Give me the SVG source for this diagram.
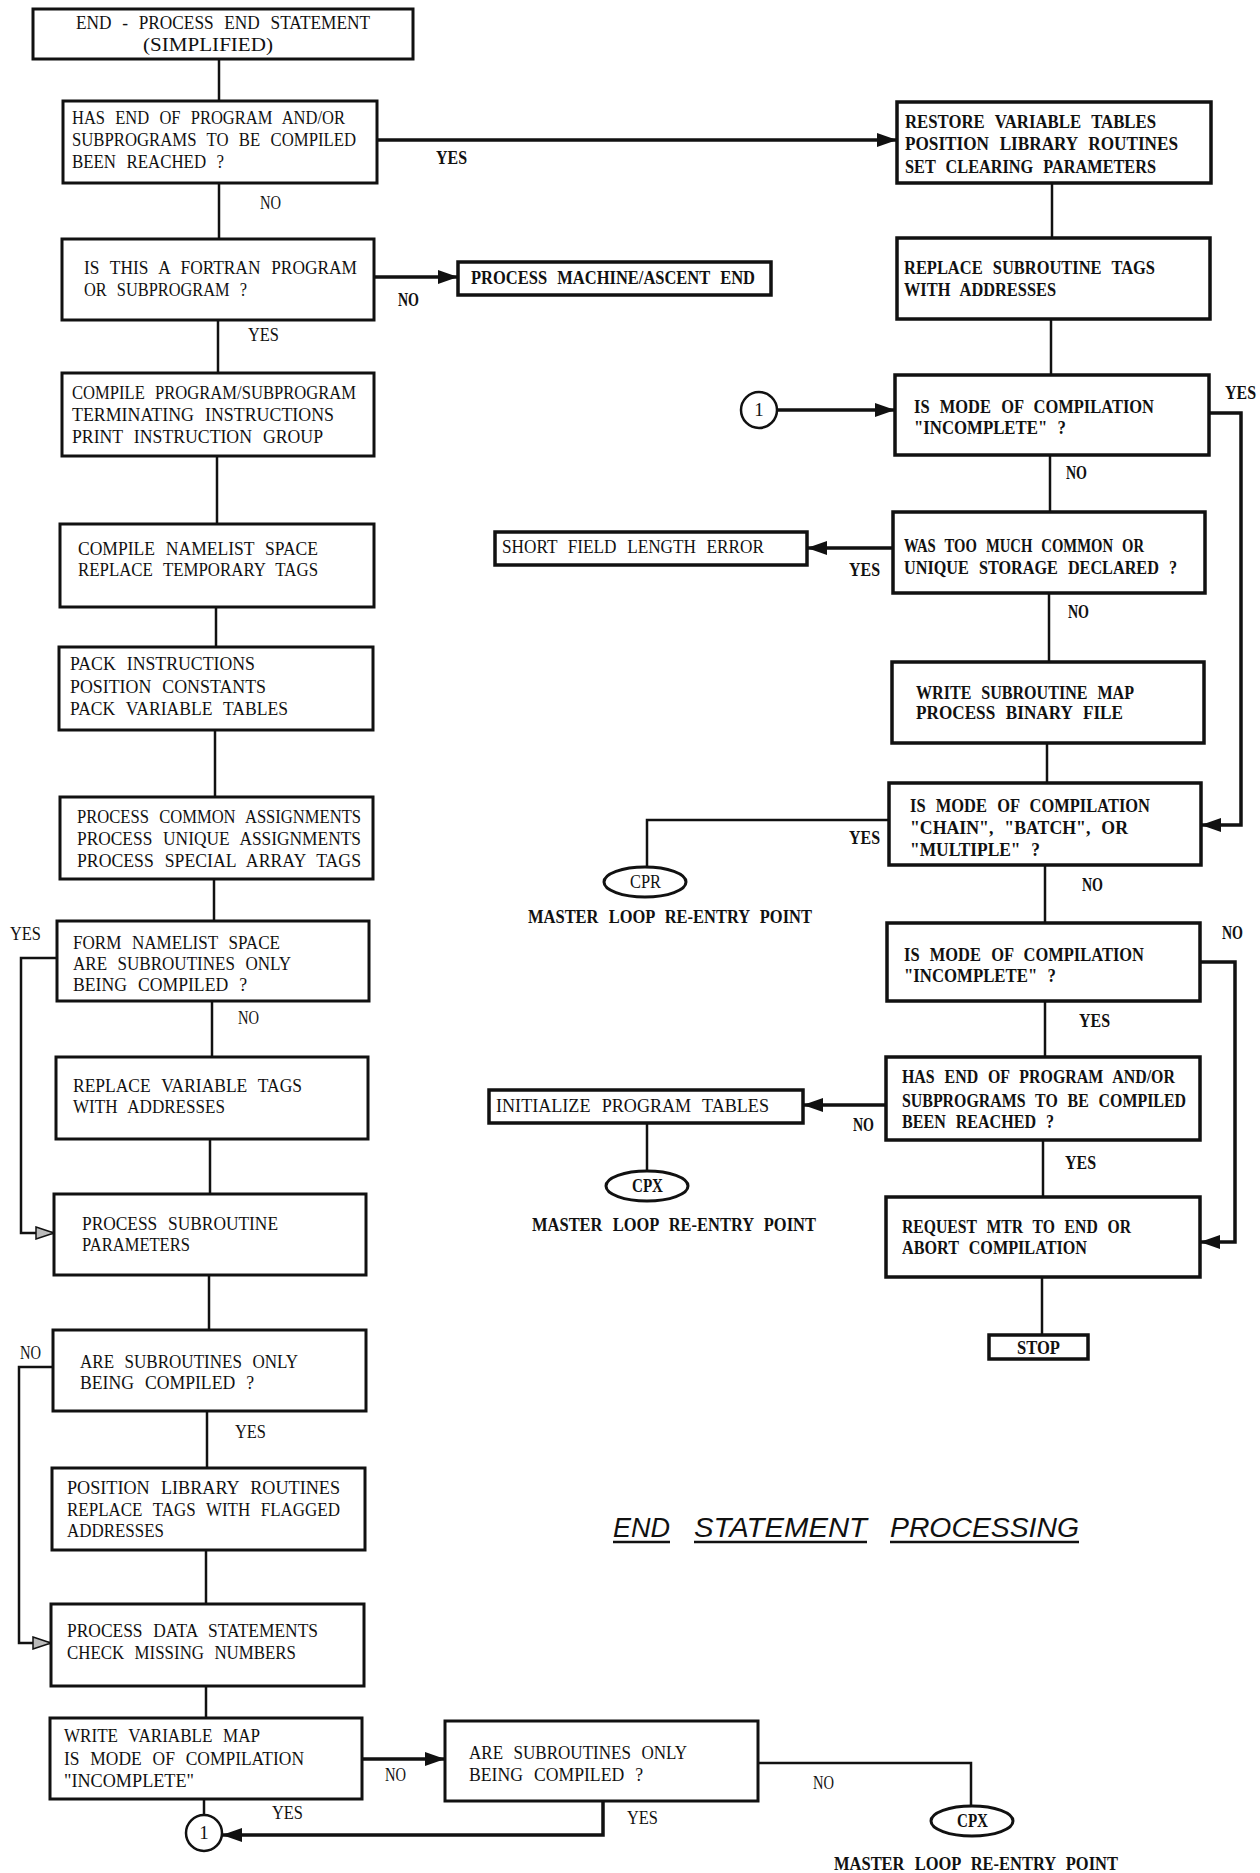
<svg xmlns="http://www.w3.org/2000/svg" width="1260" height="1873" viewBox="0 0 1260 1873">
<style>
.box{fill:#fff;stroke:#111;stroke-width:3}
.bx{fill:#fff;stroke:#111;stroke-width:3.5}
.c{fill:none;stroke:#111;stroke-width:2.5}
.ca{fill:none;stroke:#111;stroke-width:3.5}
.t{font-family:"Liberation Serif","Times New Roman",serif;font-size:19px;word-spacing:7px;fill:#111}
.b{font-weight:bold}
.ttl{font-family:"Liberation Sans",Arial,sans-serif;font-style:italic;font-size:27px;fill:#111}
</style>
<defs>
<marker id="arr" markerUnits="userSpaceOnUse" markerWidth="20" markerHeight="14" viewBox="0 0 20 14" refX="20" refY="7" orient="auto"><path d="M0,0 L20,7 L0,14 z" fill="#111"/></marker>
<marker id="hol" markerUnits="userSpaceOnUse" markerWidth="20" markerHeight="14" viewBox="0 0 20 14" refX="19" refY="7" orient="auto"><path d="M1,1 L19,7 L1,13 z" fill="#bbb" stroke="#111" stroke-width="1.5"/></marker>
</defs>
<rect width="1260" height="1873" fill="#fff"/>

<g id="connectors">
<path class="c" d="M219,59 V101"/>
<path class="ca" d="M377,140 H897" marker-end="url(#arr)"/>
<path class="c" d="M219,183 V239"/>
<path class="ca" d="M374,277 H458" marker-end="url(#arr)"/>
<path class="c" d="M218,320 V373"/>
<path class="c" d="M217,456 V524"/>
<path class="c" d="M216,607 V647"/>
<path class="c" d="M215,730 V797"/>
<path class="c" d="M214,879 V921"/>
<path class="c" d="M57,958 H21 V1233 H54" marker-end="url(#hol)"/>
<path class="c" d="M212,1001 V1057"/>
<path class="c" d="M210,1139 V1194"/>
<path class="c" d="M209,1275 V1330"/>
<path class="c" d="M53,1367 H19 V1643 H51" marker-end="url(#hol)"/>
<path class="c" d="M207,1411 V1468"/>
<path class="c" d="M206,1550 V1604"/>
<path class="c" d="M206,1686 V1718"/>
<path class="ca" d="M362,1759 H445" marker-end="url(#arr)"/>
<path class="c" d="M204,1799 V1815"/>
<path class="ca" d="M603,1801 V1835 H222" marker-end="url(#arr)"/>
<path class="c" d="M758,1763 H971 V1806"/>
<path class="c" d="M1052,183 V238"/>
<path class="c" d="M1051,319 V375"/>
<path class="ca" d="M777,410 H895" marker-end="url(#arr)"/>
<path class="ca" d="M1209,413 H1241 V825 H1201" marker-end="url(#arr)"/>
<path class="c" d="M1050,455 V512"/>
<path class="ca" d="M893,548 H807" marker-end="url(#arr)"/>
<path class="c" d="M1049,593 V662"/>
<path class="c" d="M1047,743 V783"/>
<path class="c" d="M889,820 H647 V867"/>
<path class="c" d="M1045,865 V923"/>
<path class="ca" d="M1200,962 H1235 V1242 H1200" marker-end="url(#arr)"/>
<path class="c" d="M1045,1001 V1057"/>
<path class="ca" d="M886,1105 H803" marker-end="url(#arr)"/>
<path class="c" d="M647,1123 V1171"/>
<path class="c" d="M1043,1140 V1197"/>
<path class="c" d="M1042,1277 V1335"/>
</g>

<g id="labels" class="t b">
<text x="436" y="164" textLength="31" lengthAdjust="spacingAndGlyphs">YES</text>
<text x="260" y="209" font-weight="normal" textLength="21" lengthAdjust="spacingAndGlyphs">NO</text>
<text x="398" y="306" textLength="21" lengthAdjust="spacingAndGlyphs">NO</text>
<text x="248" y="341" font-weight="normal" textLength="31" lengthAdjust="spacingAndGlyphs">YES</text>
<text x="10" y="940" font-weight="normal" textLength="31" lengthAdjust="spacingAndGlyphs">YES</text>
<text x="238" y="1024" font-weight="normal" textLength="21" lengthAdjust="spacingAndGlyphs">NO</text>
<text x="20" y="1359" font-weight="normal" textLength="21" lengthAdjust="spacingAndGlyphs">NO</text>
<text x="235" y="1438" font-weight="normal" textLength="31" lengthAdjust="spacingAndGlyphs">YES</text>
<text x="385" y="1781" font-weight="normal" textLength="21" lengthAdjust="spacingAndGlyphs">NO</text>
<text x="272" y="1819" font-weight="normal" textLength="31" lengthAdjust="spacingAndGlyphs">YES</text>
<text x="627" y="1824" font-weight="normal" textLength="31" lengthAdjust="spacingAndGlyphs">YES</text>
<text x="813" y="1789" font-weight="normal" textLength="21" lengthAdjust="spacingAndGlyphs">NO</text>
<text x="1225" y="399" textLength="31" lengthAdjust="spacingAndGlyphs">YES</text>
<text x="1066" y="479" textLength="21" lengthAdjust="spacingAndGlyphs">NO</text>
<text x="849" y="576" textLength="31" lengthAdjust="spacingAndGlyphs">YES</text>
<text x="1068" y="618" textLength="21" lengthAdjust="spacingAndGlyphs">NO</text>
<text x="849" y="844" textLength="31" lengthAdjust="spacingAndGlyphs">YES</text>
<text x="1082" y="891" textLength="21" lengthAdjust="spacingAndGlyphs">NO</text>
<text x="1222" y="939" textLength="21" lengthAdjust="spacingAndGlyphs">NO</text>
<text x="1079" y="1027" textLength="31" lengthAdjust="spacingAndGlyphs">YES</text>
<text x="853" y="1131" textLength="21" lengthAdjust="spacingAndGlyphs">NO</text>
<text x="1065" y="1169" textLength="31" lengthAdjust="spacingAndGlyphs">YES</text>
</g>

<g id="n-start"><rect class="box" x="33" y="9" width="380" height="50"/>
<text class="t" x="76" y="29" textLength="294" lengthAdjust="spacingAndGlyphs">END - PROCESS END STATEMENT</text>
<text class="t" x="143" y="51" textLength="130" lengthAdjust="spacingAndGlyphs">(SIMPLIFIED)</text></g>

<g id="n-hasend"><rect class="box" x="63" y="101" width="314" height="82"/>
<text class="t" x="72" y="124" textLength="273" lengthAdjust="spacingAndGlyphs">HAS END OF PROGRAM AND/OR</text>
<text class="t" x="72" y="146" textLength="284" lengthAdjust="spacingAndGlyphs">SUBPROGRAMS TO BE COMPILED</text>
<text class="t" x="72" y="168" textLength="152" lengthAdjust="spacingAndGlyphs">BEEN REACHED ?</text></g>

<g id="n-isfortran"><rect class="box" x="62" y="239" width="312" height="81"/>
<text class="t" x="84" y="274" textLength="273" lengthAdjust="spacingAndGlyphs">IS THIS A FORTRAN PROGRAM</text>
<text class="t" x="84" y="296" textLength="163" lengthAdjust="spacingAndGlyphs">OR SUBPROGRAM ?</text></g>

<g id="n-machine"><rect class="bx" x="458" y="262" width="313" height="33"/>
<text class="t b" x="471" y="284" textLength="284" lengthAdjust="spacingAndGlyphs">PROCESS MACHINE/ASCENT END</text></g>

<g id="n-compile"><rect class="box" x="62" y="373" width="312" height="83"/>
<text class="t" x="72" y="399" textLength="284" lengthAdjust="spacingAndGlyphs">COMPILE PROGRAM/SUBPROGRAM</text>
<text class="t" x="72" y="421" textLength="262" lengthAdjust="spacingAndGlyphs">TERMINATING INSTRUCTIONS</text>
<text class="t" x="72" y="443" textLength="251" lengthAdjust="spacingAndGlyphs">PRINT INSTRUCTION GROUP</text></g>

<g id="n-namelist"><rect class="box" x="60" y="524" width="314" height="83"/>
<text class="t" x="78" y="555" textLength="240" lengthAdjust="spacingAndGlyphs">COMPILE NAMELIST SPACE</text>
<text class="t" x="78" y="576" textLength="240" lengthAdjust="spacingAndGlyphs">REPLACE TEMPORARY TAGS</text></g>

<g id="n-pack"><rect class="box" x="59" y="647" width="314" height="83"/>
<text class="t" x="70" y="670" textLength="185" lengthAdjust="spacingAndGlyphs">PACK INSTRUCTIONS</text>
<text class="t" x="70" y="693" textLength="196" lengthAdjust="spacingAndGlyphs">POSITION CONSTANTS</text>
<text class="t" x="70" y="715" textLength="218" lengthAdjust="spacingAndGlyphs">PACK VARIABLE TABLES</text></g>

<g id="n-common"><rect class="box" x="60" y="797" width="313" height="82"/>
<text class="t" x="77" y="823" textLength="284" lengthAdjust="spacingAndGlyphs">PROCESS COMMON ASSIGNMENTS</text>
<text class="t" x="77" y="845" textLength="284" lengthAdjust="spacingAndGlyphs">PROCESS UNIQUE ASSIGNMENTS</text>
<text class="t" x="77" y="867" textLength="284" lengthAdjust="spacingAndGlyphs">PROCESS SPECIAL ARRAY TAGS</text></g>

<g id="n-form"><rect class="box" x="57" y="921" width="312" height="80"/>
<text class="t" x="73" y="949" textLength="207" lengthAdjust="spacingAndGlyphs">FORM NAMELIST SPACE</text>
<text class="t" x="73" y="970" textLength="218" lengthAdjust="spacingAndGlyphs">ARE SUBROUTINES ONLY</text>
<text class="t" x="73" y="991" textLength="174" lengthAdjust="spacingAndGlyphs">BEING COMPILED ?</text></g>

<g id="n-replvar"><rect class="box" x="56" y="1057" width="312" height="82"/>
<text class="t" x="73" y="1092" textLength="229" lengthAdjust="spacingAndGlyphs">REPLACE VARIABLE TAGS</text>
<text class="t" x="73" y="1113" textLength="152" lengthAdjust="spacingAndGlyphs">WITH ADDRESSES</text></g>

<g id="n-procsub"><rect class="box" x="54" y="1194" width="312" height="81"/>
<text class="t" x="82" y="1230" textLength="196" lengthAdjust="spacingAndGlyphs">PROCESS SUBROUTINE</text>
<text class="t" x="82" y="1251" textLength="108" lengthAdjust="spacingAndGlyphs">PARAMETERS</text></g>

<g id="n-aresub1"><rect class="box" x="53" y="1330" width="313" height="81"/>
<text class="t" x="80" y="1368" textLength="218" lengthAdjust="spacingAndGlyphs">ARE SUBROUTINES ONLY</text>
<text class="t" x="80" y="1389" textLength="174" lengthAdjust="spacingAndGlyphs">BEING COMPILED ?</text></g>

<g id="n-poslib"><rect class="box" x="52" y="1468" width="313" height="82"/>
<text class="t" x="67" y="1494" textLength="273" lengthAdjust="spacingAndGlyphs">POSITION LIBRARY ROUTINES</text>
<text class="t" x="67" y="1516" textLength="273" lengthAdjust="spacingAndGlyphs">REPLACE TAGS WITH FLAGGED</text>
<text class="t" x="67" y="1537" textLength="97" lengthAdjust="spacingAndGlyphs">ADDRESSES</text></g>

<g id="n-data"><rect class="box" x="51" y="1604" width="313" height="82"/>
<text class="t" x="67" y="1637" textLength="251" lengthAdjust="spacingAndGlyphs">PROCESS DATA STATEMENTS</text>
<text class="t" x="67" y="1659" textLength="229" lengthAdjust="spacingAndGlyphs">CHECK MISSING NUMBERS</text></g>

<g id="n-writevar"><rect class="box" x="50" y="1718" width="312" height="81"/>
<text class="t" x="64" y="1742" textLength="196" lengthAdjust="spacingAndGlyphs">WRITE VARIABLE MAP</text>
<text class="t" x="64" y="1765" textLength="240" lengthAdjust="spacingAndGlyphs">IS MODE OF COMPILATION</text>
<text class="t" x="64" y="1787" textLength="130" lengthAdjust="spacingAndGlyphs">"INCOMPLETE"</text></g>

<g id="n-aresub2"><rect class="box" x="445" y="1721" width="313" height="80"/>
<text class="t" x="469" y="1759" textLength="218" lengthAdjust="spacingAndGlyphs">ARE SUBROUTINES ONLY</text>
<text class="t" x="469" y="1781" textLength="174" lengthAdjust="spacingAndGlyphs">BEING COMPILED ?</text></g>

<g id="n-conn1b"><circle cx="204" cy="1833" r="18" fill="#fff" stroke="#111" stroke-width="2.5"/>
<text class="t" x="204" y="1839" text-anchor="middle">1</text></g>

<g id="n-cpx2"><ellipse cx="972" cy="1821" rx="41" ry="15" fill="#fff" stroke="#111" stroke-width="3"/>
<text class="t b" x="957" y="1827" textLength="31" lengthAdjust="spacingAndGlyphs">CPX</text>
<text class="t b" x="834" y="1870" textLength="284" lengthAdjust="spacingAndGlyphs">MASTER LOOP RE-ENTRY POINT</text></g>

<g id="title">
<text class="ttl" x="613" y="1537" textLength="57" lengthAdjust="spacingAndGlyphs">END</text>
<text class="ttl" x="694" y="1537" textLength="173" lengthAdjust="spacingAndGlyphs">STATEMENT</text>
<text class="ttl" x="890" y="1537" textLength="189" lengthAdjust="spacingAndGlyphs">PROCESSING</text>
<path d="M613,1542 H670 M694,1542 H867 M890,1542 H1079" stroke="#111" stroke-width="2.5"/>
</g>

<g id="n-restore"><rect class="bx" x="897" y="102" width="314" height="81"/>
<text class="t b" x="905" y="128" textLength="251" lengthAdjust="spacingAndGlyphs">RESTORE VARIABLE TABLES</text>
<text class="t b" x="905" y="150" textLength="273" lengthAdjust="spacingAndGlyphs">POSITION LIBRARY ROUTINES</text>
<text class="t b" x="905" y="173" textLength="251" lengthAdjust="spacingAndGlyphs">SET CLEARING PARAMETERS</text></g>

<g id="n-replsub"><rect class="bx" x="897" y="238" width="313" height="81"/>
<text class="t b" x="904" y="274" textLength="251" lengthAdjust="spacingAndGlyphs">REPLACE SUBROUTINE TAGS</text>
<text class="t b" x="904" y="296" textLength="152" lengthAdjust="spacingAndGlyphs">WITH ADDRESSES</text></g>

<g id="n-conn1a"><circle cx="759" cy="410" r="18" fill="#fff" stroke="#111" stroke-width="2.5"/>
<text class="t" x="759" y="416" text-anchor="middle">1</text></g>

<g id="n-incomplete1"><rect class="bx" x="895" y="375" width="314" height="80"/>
<text class="t b" x="914" y="413" textLength="240" lengthAdjust="spacingAndGlyphs">IS MODE OF COMPILATION</text>
<text class="t b" x="914" y="434" textLength="152" lengthAdjust="spacingAndGlyphs">"INCOMPLETE" ?</text></g>

<g id="n-toomuch"><rect class="bx" x="893" y="512" width="312" height="81"/>
<text class="t b" x="904" y="552" textLength="240" lengthAdjust="spacingAndGlyphs">WAS TOO MUCH COMMON OR</text>
<text class="t b" x="904" y="574" textLength="273" lengthAdjust="spacingAndGlyphs">UNIQUE STORAGE DECLARED ?</text></g>

<g id="n-shortfield"><rect class="bx" x="495" y="532" width="312" height="33"/>
<text class="t" x="502" y="553" textLength="262" lengthAdjust="spacingAndGlyphs">SHORT FIELD LENGTH ERROR</text></g>

<g id="n-writesub"><rect class="bx" x="892" y="662" width="312" height="81"/>
<text class="t b" x="916" y="699" textLength="218" lengthAdjust="spacingAndGlyphs">WRITE SUBROUTINE MAP</text>
<text class="t b" x="916" y="719" textLength="207" lengthAdjust="spacingAndGlyphs">PROCESS BINARY FILE</text></g>

<g id="n-chain"><rect class="bx" x="889" y="783" width="312" height="82"/>
<text class="t b" x="910" y="812" textLength="240" lengthAdjust="spacingAndGlyphs">IS MODE OF COMPILATION</text>
<text class="t b" x="910" y="834" textLength="218" lengthAdjust="spacingAndGlyphs">"CHAIN", "BATCH", OR</text>
<text class="t b" x="910" y="856" textLength="130" lengthAdjust="spacingAndGlyphs">"MULTIPLE" ?</text></g>

<g id="n-cpr"><ellipse cx="645" cy="882" rx="41" ry="15" fill="#fff" stroke="#111" stroke-width="3"/>
<text class="t" x="630" y="888" textLength="31" lengthAdjust="spacingAndGlyphs">CPR</text>
<text class="t b" x="528" y="923" textLength="284" lengthAdjust="spacingAndGlyphs">MASTER LOOP RE-ENTRY POINT</text></g>

<g id="n-incomplete2"><rect class="bx" x="887" y="923" width="313" height="78"/>
<text class="t b" x="904" y="961" textLength="240" lengthAdjust="spacingAndGlyphs">IS MODE OF COMPILATION</text>
<text class="t b" x="904" y="982" textLength="152" lengthAdjust="spacingAndGlyphs">"INCOMPLETE" ?</text></g>

<g id="n-hasend2"><rect class="bx" x="886" y="1057" width="314" height="83"/>
<text class="t b" x="902" y="1083" textLength="273" lengthAdjust="spacingAndGlyphs">HAS END OF PROGRAM AND/OR</text>
<text class="t b" x="902" y="1107" textLength="284" lengthAdjust="spacingAndGlyphs">SUBPROGRAMS TO BE COMPILED</text>
<text class="t b" x="902" y="1128" textLength="152" lengthAdjust="spacingAndGlyphs">BEEN REACHED ?</text></g>

<g id="n-init"><rect class="bx" x="489" y="1090" width="314" height="33"/>
<text class="t" x="496" y="1112" textLength="273" lengthAdjust="spacingAndGlyphs">INITIALIZE PROGRAM TABLES</text></g>

<g id="n-cpx1"><ellipse cx="647" cy="1186" rx="41" ry="15" fill="#fff" stroke="#111" stroke-width="3"/>
<text class="t b" x="632" y="1192" textLength="31" lengthAdjust="spacingAndGlyphs">CPX</text>
<text class="t b" x="532" y="1231" textLength="284" lengthAdjust="spacingAndGlyphs">MASTER LOOP RE-ENTRY POINT</text></g>

<g id="n-request"><rect class="bx" x="886" y="1197" width="314" height="80"/>
<text class="t b" x="902" y="1233" textLength="229" lengthAdjust="spacingAndGlyphs">REQUEST MTR TO END OR</text>
<text class="t b" x="902" y="1254" textLength="185" lengthAdjust="spacingAndGlyphs">ABORT COMPILATION</text></g>

<g id="n-stop"><rect class="bx" x="989" y="1335" width="99" height="24"/>
<text class="t b" x="1017" y="1354" textLength="43" lengthAdjust="spacingAndGlyphs">STOP</text></g>
</svg>
